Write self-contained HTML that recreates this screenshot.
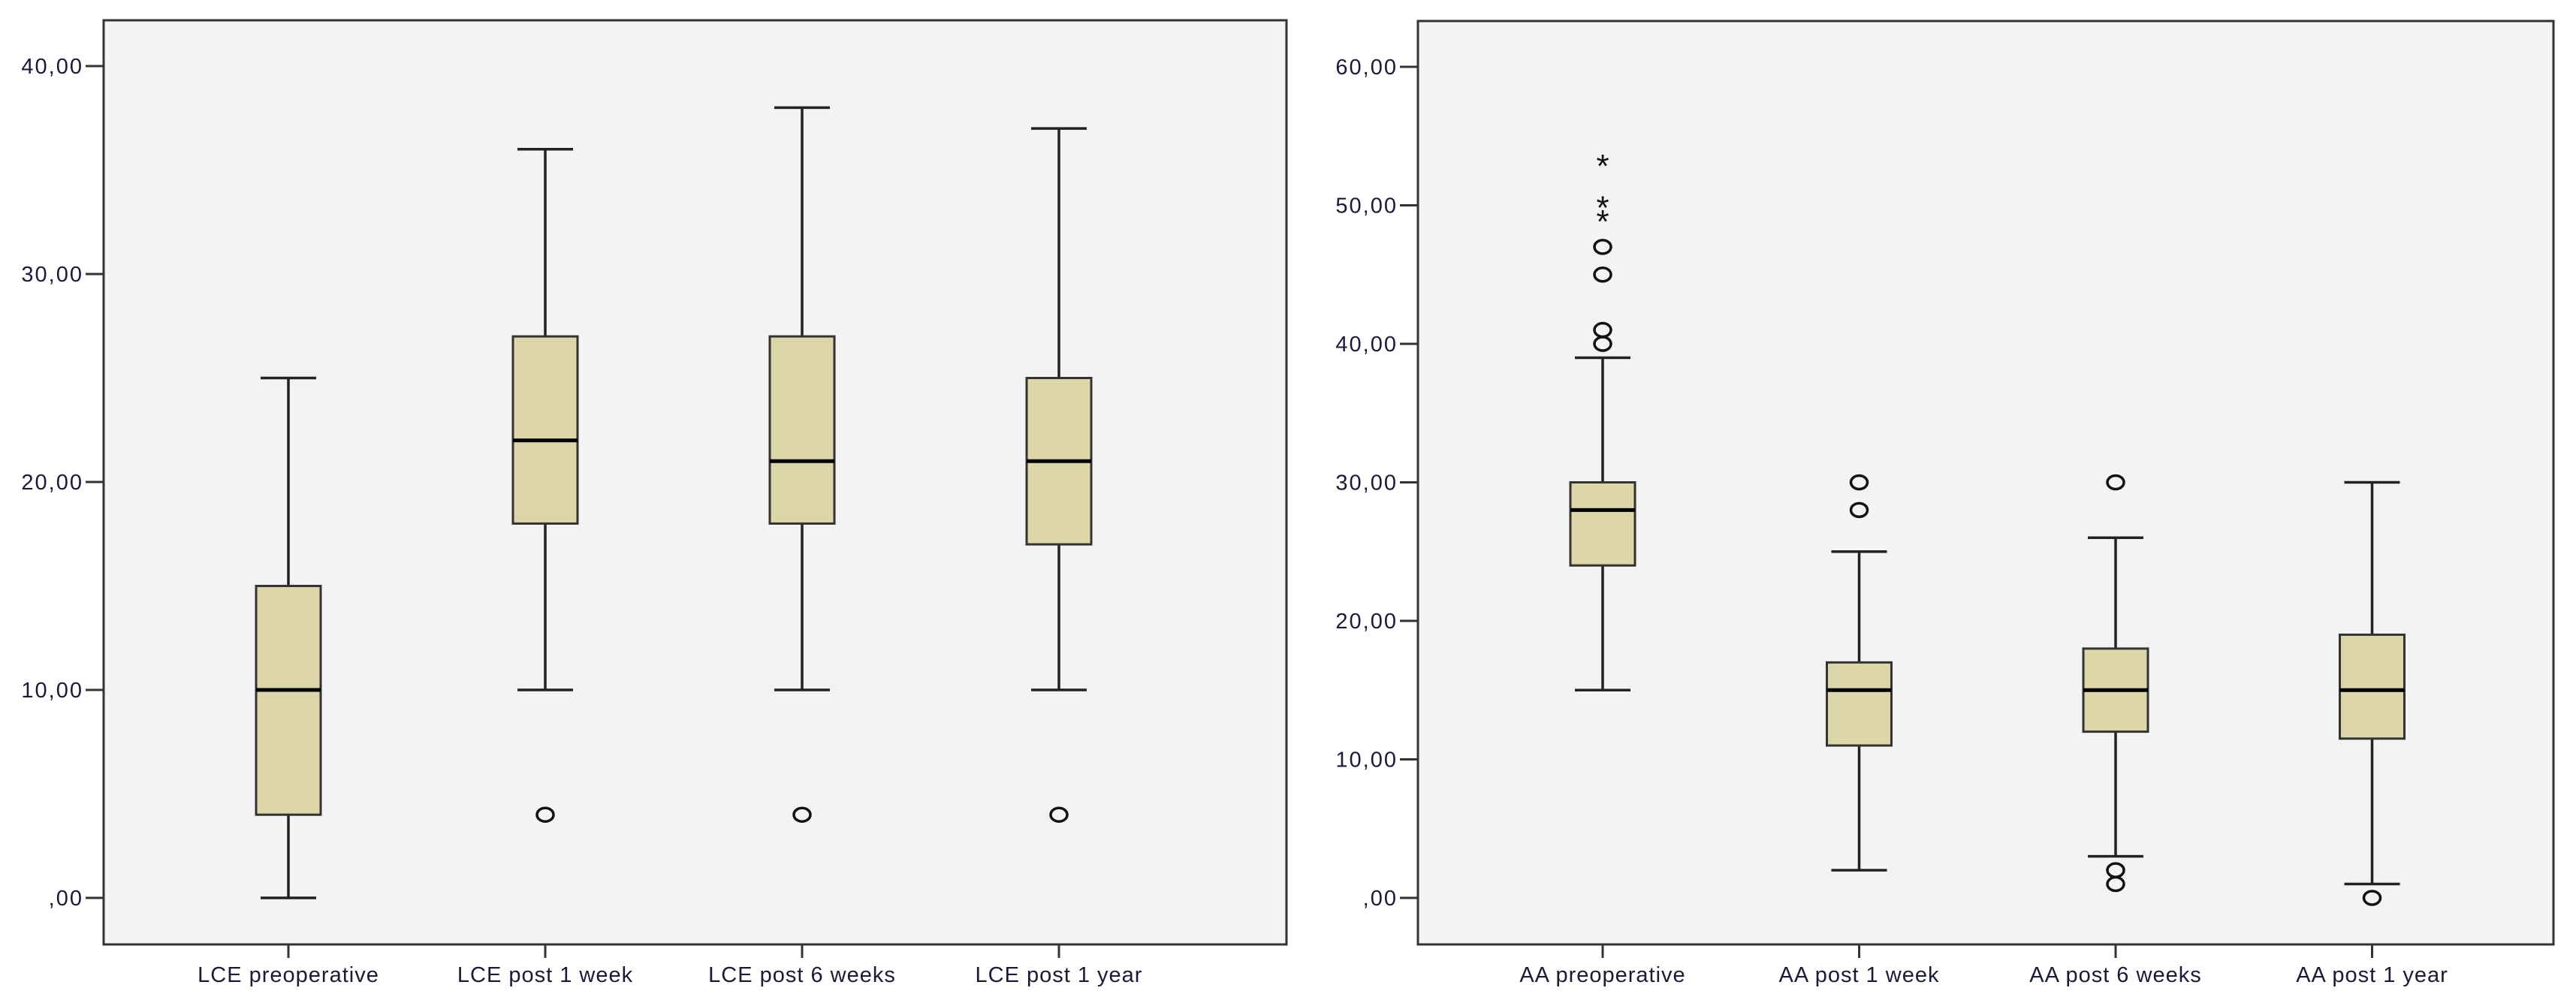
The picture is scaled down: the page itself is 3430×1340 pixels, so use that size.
<!DOCTYPE html>
<html><head><meta charset="utf-8"><style>
html,body{margin:0;padding:0;background:#fff;}
svg{display:block;}
text{font-family:"Liberation Sans",sans-serif;fill:#1a1a3a;}
</style></head><body>
<svg id="chart" width="3430" height="1340" viewBox="0 0 3430 1340" xmlns="http://www.w3.org/2000/svg"></svg>
<script>
const lceCategories = ["LCE preoperative","LCE post 1 week","LCE post 6 weeks","LCE post 1 year"];
const lceMin = [0,10,10,10];
const lceQ1 = [4,18,18,17];
const lceMedian = [10,22,21,21];
const lceQ3 = [15,27,27,25];
const lceMax = [25,36,38,37];
const lceOutliers = [[],[4],[4],[4]];
const lceExtremes = [[],[],[],[]];
const lceTicks = [0,10,20,30,40];

const aaCategories = ["AA preoperative","AA post 1 week","AA post 6 weeks","AA post 1 year"];
const aaMin = [15,2,3,1];
const aaQ1 = [24,11,12,11.5];
const aaMedian = [28,15,15,15];
const aaQ3 = [30,17,18,19];
const aaMax = [39,25,26,30];
const aaOutliers = [[40,41,45,47],[28,30],[30,2,1],[0]];
const aaExtremes = [[49,50,53],[],[],[]];
const aaTicks = [0,10,20,30,40,50,60];

const NS="http://www.w3.org/2000/svg";
const svg=document.getElementById('chart');
function mk(tag,attrs,parent){const e=document.createElementNS(NS,tag);for(const k in attrs)e.setAttribute(k,attrs[k]);(parent||svg).appendChild(e);return e;}
function fmt(v){return v===0?",00":v+",00";}

function panel(p){
  const g=mk('g',{});
  
  
  const yScale=v=>p.y0-(v-p.vmin)*(p.y0-p.y1)/(p.vmax-p.vmin);
  const xScale=i=>p.c0+i*p.step;
  const bg=mk('rect',{x:p.left,y:p.top,width:p.right-p.left,height:p.bottom-p.top,fill:'#f3f3f3',stroke:'#333',"stroke-width":3},g);
  
  
  p.ticks.forEach(t=>{
    const y=yScale(t);
    const tl=mk('line',{x1:p.left-24,x2:p.left,y1:y,y2:y,stroke:'#333',"stroke-width":3},g);
    
    
    const tx=mk('text',{x:p.left-27,y:y+10,"text-anchor":"end","font-size":29,"letter-spacing":2},g);
    tx.textContent=fmt(t);
    
    
  });
  p.cats.forEach((c,i)=>{
    const x=xScale(i), hw=43, cw=37;
    const bx=mk('g',{},g);
    
    
    mk('line',{x1:x,x2:x,y1:yScale(p.max[i]),y2:yScale(p.q3[i]),stroke:'#222',"stroke-width":3.5},bx);
    mk('line',{x1:x,x2:x,y1:yScale(p.q1[i]),y2:yScale(p.min[i]),stroke:'#222',"stroke-width":3.5},bx);
    mk('line',{x1:x-cw,x2:x+cw,y1:yScale(p.max[i]),y2:yScale(p.max[i]),stroke:'#222',"stroke-width":3.5},bx);
    mk('line',{x1:x-cw,x2:x+cw,y1:yScale(p.min[i]),y2:yScale(p.min[i]),stroke:'#222',"stroke-width":3.5},bx);
    mk('rect',{x:x-hw,y:yScale(p.q3[i]),width:2*hw,height:yScale(p.q1[i])-yScale(p.q3[i]),fill:'#dcd6a8',stroke:'#333',"stroke-width":3},bx);
    mk('line',{x1:x-hw,x2:x+hw,y1:yScale(p.med[i]),y2:yScale(p.med[i]),stroke:'#000',"stroke-width":5},bx);
    p.out[i].forEach(v=>{
      const o=mk('ellipse',{cx:x,cy:yScale(v),rx:11,ry:9,fill:'none',stroke:'#111',"stroke-width":3.5},bx);
      
      
    });
    p.ext[i].forEach(v=>{
      const s=mk('text',{x:x,y:yScale(v)+18,"text-anchor":"middle","font-size":44,style:"fill:#111"},bx);
      s.textContent='*';
      
      
    });
    const tk=mk('line',{x1:x,x2:x,y1:p.bottom,y2:p.bottom+18,stroke:'#333',"stroke-width":3},g);
    
    
    const lb=mk('text',{x:x,y:p.bottom+50,"text-anchor":"middle","font-size":29,"letter-spacing":1},g);
    lb.textContent=c;
    
    
  });
}
panel({name:'lce-panel',left:138,right:1713,top:27,bottom:1258,vmin:0,vmax:40,y0:1196,y1:88,c0:384,step:342,
  cats:lceCategories,min:lceMin,q1:lceQ1,med:lceMedian,q3:lceQ3,max:lceMax,out:lceOutliers,ext:lceExtremes,ticks:lceTicks});
panel({name:'aa-panel',left:1888,right:3400,top:28,bottom:1258,vmin:0,vmax:60,y0:1196,y1:89,c0:2134,step:341.5,
  cats:aaCategories,min:aaMin,q1:aaQ1,med:aaMedian,q3:aaQ3,max:aaMax,out:aaOutliers,ext:aaExtremes,ticks:aaTicks});
</script>
</body></html>
